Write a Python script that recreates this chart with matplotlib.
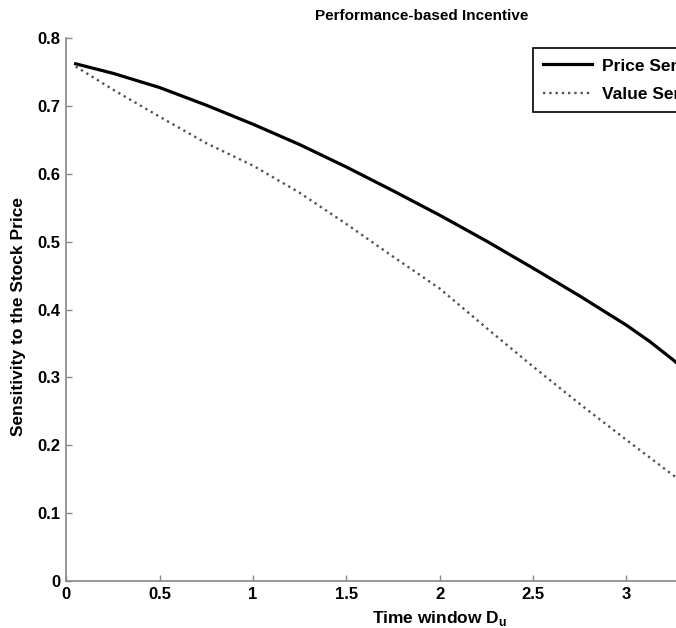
import matplotlib.pyplot as plt

plt.rcParams['font.family'] = ['Liberation Sans', 'DejaVu Sans']
plt.rcParams['font.weight'] = 'bold'

# values
window = [0.05, 0.25, 0.5, 0.75, 1.0, 1.25, 1.5, 1.75, 2.0, 2.25, 2.5, 2.75, 3.0, 3.125, 3.25, 3.3]
price_sens = [0.762, 0.748, 0.727, 0.701, 0.673, 0.643, 0.610, 0.575, 0.539,
              0.501, 0.461, 0.420, 0.377, 0.353, 0.326, 0.314]
value_sens = [0.758, 0.724, 0.684, 0.645, 0.612, 0.572, 0.526, 0.478, 0.431,
              0.373, 0.316, 0.261, 0.208, 0.182, 0.156, 0.146]
xticks = [0, 0.5, 1, 1.5, 2, 2.5, 3]
yticks = [0, 0.1, 0.2, 0.3, 0.4, 0.5, 0.6, 0.7, 0.8]

W, H = 676, 628
fig = plt.figure(figsize=(W / 100, H / 100), dpi=100)
# axes runs past the right edge, like the cropped original
ax = fig.add_axes([66.3 / W, (H - 581) / H, 700 / W, 543 / H])

ax.plot(window, price_sens, color='black', lw=2.3, label='Price Sensitivity')
ax.plot(window, value_sens, color='#555555', lw=1.7, linestyle=':', label='Value Sensitivity')

ax.set_xlim(0, 3.75)
ax.set_ylim(0, 0.8)
ax.set_xticks(xticks)
ax.set_xticklabels(['0', '0.5', '1', '1.5', '2', '2.5', '3'])
ax.set_yticks(yticks)
ax.set_yticklabels(['0', '0.1', '0.2', '0.3', '0.4', '0.5', '0.6', '0.7', '0.8'])

for s in ['top', 'right']:
    ax.spines[s].set_visible(False)
for s in ['left', 'bottom']:
    ax.spines[s].set_color('#888888')
    ax.spines[s].set_linewidth(1.2)
ax.tick_params(direction='in', length=4, width=1, color='#888888',
               labelsize=12, labelcolor='black', pad=4)

ax.set_xlabel('Time window D$_\\mathregular{u}$', fontsize=12.5, fontweight='bold')
ax.xaxis.set_label_coords(0.534, -0.052)
ax.set_ylabel('Sensitivity to the Stock Price', fontsize=12.5, fontweight='bold')
ax.yaxis.set_label_coords(-0.057, 0.488)
ax.set_title('Performance-based Incentive', fontsize=11, fontweight='bold', x=0.507, y=1.018)

# legend box is cut by the right edge, as in the original
leg = ax.legend(loc='upper left', bbox_to_anchor=(533 / W, 1 - 48 / H),
                bbox_transform=fig.transFigure, fancybox=False, edgecolor='black',
                framealpha=1, fontsize=12.5, handlelength=2.8, handletextpad=0.6,
                labelspacing=0.75, borderpad=0.6, borderaxespad=0)
leg.get_frame().set_linewidth(1.2)

fig.savefig('out.png', dpi=100)
